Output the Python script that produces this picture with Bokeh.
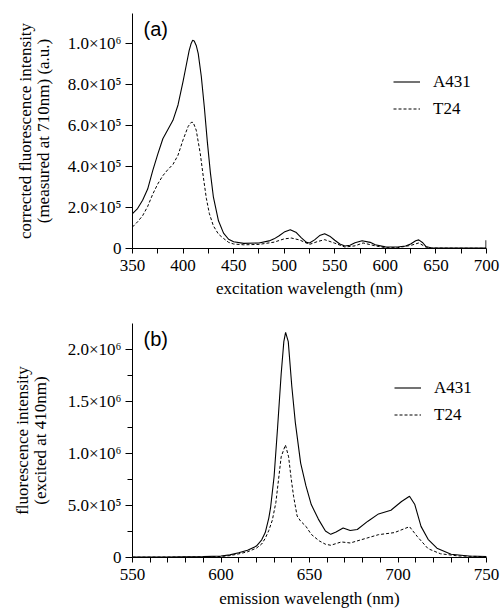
from bokeh.plotting import figure
from bokeh.layouts import column
from bokeh.models import Range1d, FixedTicker, Label, Legend, LegendItem
from bokeh.embed import file_html
from bokeh.resources import INLINE

# ---------------- panel (a): excitation spectra ----------------
ex_a431_nm = [350, 355, 360, 365, 370, 375, 380, 385, 390, 395, 400, 403, 406, 408, 409.5, 411,
              413, 415, 418, 421, 424, 427, 430, 435, 440, 445, 450, 460, 475, 485, 490, 495,
              500, 506, 512, 517, 522, 525, 530, 535, 540, 545, 550, 555, 560, 565, 570, 577,
              585, 590, 600, 612, 620, 625, 630, 633, 637, 640, 645, 650, 699.5, 699.5]
ex_a431 = [170000, 195000, 235000, 290000, 380000, 460000, 535000, 580000, 625000, 700000,
           815000, 890000, 965000, 1000000, 1015000, 1012000, 990000, 950000, 840000, 690000,
           520000, 370000, 250000, 135000, 75000, 45000, 33000, 25000, 27000, 37000, 47000,
           62000, 80000, 91000, 78000, 52000, 30000, 27000, 42000, 63000, 72000, 60000, 40000,
           22000, 12000, 16000, 28000, 38000, 30000, 18000, 8000, 7000, 12000, 22000, 38000,
           42000, 28000, 10000, 4000, 2000, 2000, 40000]

ex_t24_nm = [350, 355, 360, 365, 370, 375, 380, 385, 390, 395, 400, 405, 408, 410, 413, 417,
             420, 423, 426, 430, 435, 440, 445, 450, 460, 475, 490, 500, 507, 515, 525, 533,
             540, 550, 560, 570, 578, 590, 600, 612, 625, 633, 640, 645, 700]
ex_t24 = [105000, 130000, 160000, 205000, 265000, 315000, 355000, 385000, 410000, 455000,
          530000, 595000, 615000, 615000, 577000, 463000, 350000, 245000, 170000, 110000,
          70000, 49000, 30000, 22000, 18000, 20000, 31000, 47000, 51000, 42000, 20000, 34000,
          43000, 26000, 7000, 13000, 27000, 13000, 4000, 4000, 15000, 27000, 7000, 2000, 1000]

a_xticks = [350, 400, 450, 500, 550, 600, 650, 700]
a_yticks = [0, 200000, 400000, 600000, 800000, 1000000]
a_ylabels = ["0", "2.0×10⁵", "4.0×10⁵", "6.0×10⁵", "8.0×10⁵", "1.0×10⁶"]

# ---------------- panel (b): emission spectra ----------------
em_a431_nm = [550, 570, 590, 600, 605, 610, 615, 620, 623, 625, 627, 628, 630, 632, 634, 635.5,
              636.5, 638, 640, 642, 645, 648, 651, 655, 659, 662, 665, 669, 673, 677, 683, 689,
              696, 702, 706.5, 709.5, 713, 717, 722, 730, 740, 750]
em_a431 = [4000, 5000, 8000, 15000, 25000, 45000, 70000, 110000, 170000, 240000, 380000,
           480000, 780000, 1260000, 1770000, 2080000, 2170000, 2080000, 1650000, 1300000,
           910000, 690000, 510000, 370000, 255000, 223000, 245000, 285000, 260000, 270000,
           350000, 420000, 455000, 540000, 590000, 510000, 300000, 175000, 90000, 32000,
           15000, 10000]

em_t24_nm = [550, 570, 590, 600, 605, 610, 615, 620, 623, 625, 627, 629, 631, 632.5, 634,
             636.4, 638.2, 639.5, 641, 643, 645, 648, 651, 655.5, 659, 662, 668, 673, 683, 689,
             698, 706.5, 711, 717, 724, 734, 750]
em_t24 = [3000, 4000, 6000, 10000, 18000, 35000, 55000, 90000, 130000, 185000, 260000, 360000,
          530000, 750000, 970000, 1085000, 970000, 780000, 590000, 400000, 350000, 300000,
          223000, 160000, 128000, 118000, 150000, 140000, 190000, 220000, 240000, 297000,
          200000, 85000, 36000, 15000, 8000]

b_xticks = [550, 600, 650, 700, 750]
b_yticks = [0, 500000, 1000000, 1500000, 2000000]
b_ylabels = ["0", "5.0×10⁵", "1.0×10⁶", "1.5×10⁶", "2.0×10⁶"]

series_names = ["A431", "T24"]

SERIF = "Liberation Serif"
SANS = "Liberation Sans"


def make_panel(height, top, bottom, xr, yr, xticks, yticks, ylabels, x_minor, y_minor,
               xlabel, ylabel, xs1, ys1, xs2, ys2, tag, legend_loc, ylab_standoff, xlab_standoff):
    p = figure(width=503, height=height, output_backend="svg", toolbar_location=None,
               x_range=Range1d(*xr), y_range=Range1d(*yr),
               min_border_left=132, min_border_right=17,
               min_border_top=top, min_border_bottom=bottom)
    p.outline_line_color = None
    p.grid.visible = False
    p.background_fill_color = "white"
    p.border_fill_color = "white"

    r1 = p.line(xs1, ys1, line_color="black", line_width=1.1)
    r2 = p.line(xs2, ys2, line_color="black", line_width=1.0, line_dash="3 2")

    for ax in (p.xaxis[0], p.yaxis[0]):
        ax.axis_line_color = "black"
        ax.axis_line_width = 1
        ax.major_tick_line_color = "black"
        ax.minor_tick_line_color = "black"
        ax.major_tick_in = 0
        ax.minor_tick_in = 0
        ax.major_label_text_font = SERIF
        ax.major_label_text_font_size = "17px"
        ax.major_label_text_color = "black"
        ax.axis_label_text_font = SERIF
        ax.axis_label_text_font_size = "17px"
        ax.axis_label_text_font_style = "normal"
        ax.axis_label_text_color = "black"
        ax.axis_label_text_line_height = 0.95

    xa = p.xaxis[0]
    xa.ticker = FixedTicker(ticks=xticks, minor_ticks=x_minor)
    xa.major_tick_out = 5
    xa.minor_tick_out = 5
    xa.major_label_standoff = 6
    xa.axis_label = xlabel
    xa.axis_label_standoff = xlab_standoff

    ya = p.yaxis[0]
    ya.ticker = FixedTicker(ticks=yticks, minor_ticks=y_minor)
    ya.major_tick_out = 7
    ya.minor_tick_out = 5
    ya.major_label_standoff = 4
    ya.major_label_overrides = {t: l for t, l in zip(yticks, ylabels)}
    ya.axis_label = ylabel
    ya.axis_label_standoff = ylab_standoff

    legend = Legend(items=[LegendItem(label=series_names[0], renderers=[r1]),
                           LegendItem(label=series_names[1], renderers=[r2])],
                    location=legend_loc)
    legend.border_line_color = None
    legend.background_fill_alpha = 0
    legend.padding = 0
    legend.margin = 0
    legend.spacing = 0
    legend.glyph_width = 27
    legend.glyph_height = 27
    legend.label_standoff = 13
    legend.label_text_font = SERIF
    legend.label_text_font_size = "17px"
    legend.label_text_color = "black"
    p.add_layout(legend)

    p.add_layout(Label(x=11, y=yr[1], x_units="screen", y_units="data", text=tag,
                       text_font=SANS, text_font_size="20px", text_color="black",
                       text_baseline="top", y_offset=-4))
    return p


# minor tick positions for panels
a_xminor = [375, 425, 475, 525, 575, 625, 675]
b_xminor = [v for v in range(550, 751, 10) if v % 50 != 0]
b_yminor = [250000, 750000, 1250000, 1750000]

pa = make_panel(305, 13, 57, (350, 700), (0, 1146000), a_xticks, a_yticks, a_ylabels,
                a_xminor, [], "excitation wavelength (nm)",
                "corrected fluorescence intensity\n(measured at 710nm) (a.u.)",
                ex_a431_nm, ex_a431, ex_t24_nm, ex_t24, "(a)", (261, 126), 12, 5)

pb = make_panel(305, 18, 52, (550, 750), (0, 2255000), b_xticks, b_yticks, b_ylabels,
                b_xminor, b_yminor, "emission wavelength (nm)",
                "fluorescence intensity\n(excited at 410nm)",
                em_a431_nm, em_a431, em_t24_nm, em_t24, "(b)", (262, 129), 15, 6)

layout = column(pa, pb, spacing=0)
open("out.html", "w").write(file_html(layout, INLINE))
